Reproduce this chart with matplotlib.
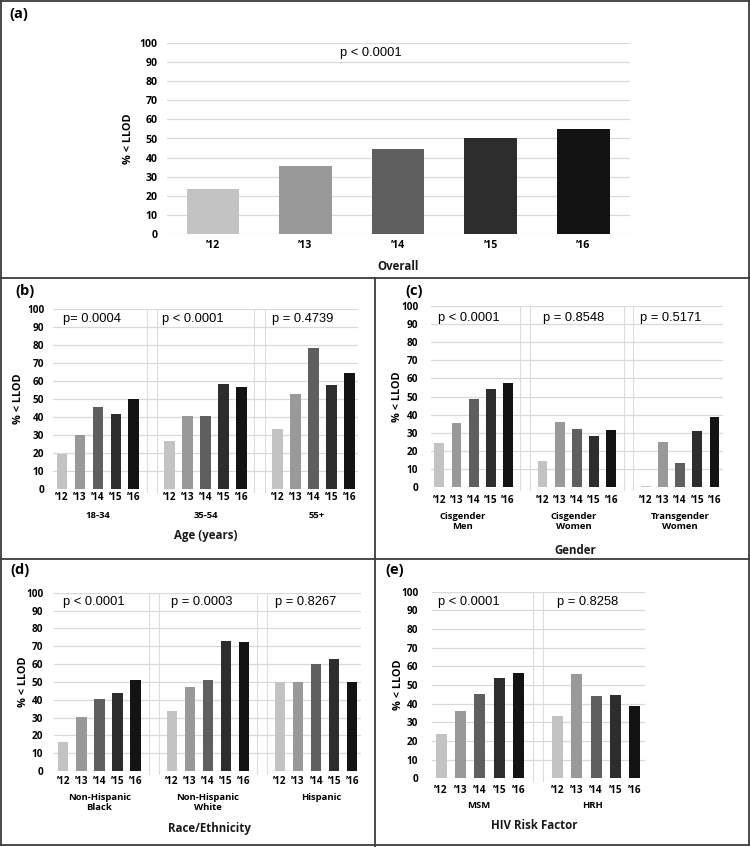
import matplotlib
matplotlib.use("Agg")
import matplotlib.pyplot as plt
from matplotlib.transforms import blended_transform_factory
from matplotlib.lines import Line2D

plt.rcParams['font.family'] = ['Open Sans', 'DejaVu Sans']

W, H = 750, 847

# ---------------- data ----------------
years = ["\u201912", "\u201913", "\u201914", "\u201915", "\u201916"]
year_colors = ["#c3c3c3", "#999999", "#5f5f5f", "#2d2d2d", "#131313"]

overall = [23.5, 35.5, 44.5, 50.5, 55.0]
overall_p = ["p < 0.0001"]

age_groups = ["18-34", "35-54", "55+"]
age_18_34 = [19.5, 30.0, 45.5, 42.0, 50.0]
age_35_54 = [26.5, 40.5, 40.5, 58.5, 57.0]
age_55_plus = [33.5, 53.0, 78.5, 58.0, 64.5]
age_p = ["p= 0.0004", "p < 0.0001", "p = 0.4739"]

gender_groups = ["Cisgender\nMen", "Cisgender\nWomen", "Transgender\nWomen"]
cis_men = [24.5, 35.5, 48.5, 54.0, 57.5]
cis_women = [14.5, 36.0, 32.0, 28.0, 31.5]
trans_women = [0.5, 25.0, 13.5, 31.0, 38.5]
gender_p = ["p < 0.0001", "p = 0.8548", "p = 0.5171"]

race_groups = ["Non-Hispanic\nBlack", "Non-Hispanic\nWhite", "Hispanic"]
nh_black = [16.0, 30.5, 40.5, 44.0, 51.0]
nh_white = [33.5, 47.0, 51.0, 73.0, 72.5]
hispanic = [50.0, 50.0, 60.0, 63.0, 50.0]
race_p = ["p < 0.0001", "p = 0.0003", "p = 0.8267"]

risk_groups = ["MSM", "HRH"]
msm = [24.0, 36.0, 45.0, 53.5, 56.5]
hrh = [33.5, 56.0, 44.0, 44.5, 39.0]
risk_p = ["p < 0.0001", "p = 0.8258"]

yticks = list(range(0, 101, 10))

# ---------------- figure ----------------
fig = plt.figure(figsize=(W / 100, H / 100), dpi=100)


def add_axes_px(left, top, right, bottom):
    return fig.add_axes([left / W, 1 - bottom / H, (right - left) / W, (bottom - top) / H])


def fy(ypx):
    return 1 - ypx / H


def panel(ax, series, group_labels, pvals, p_x, p_y, tick_y, glabel_x, glabel_y,
          title, title_x, title_y, ylabel_x, ytick_gap, tick_fs=7.2, group_fs=6.8):
    n = len(series)
    ax.set_xlim(-0.5, n * 6 - 1.5)
    ax.set_ylim(0, 100)
    ax.set_yticks(yticks)
    ax.set_yticklabels([str(v) for v in yticks], fontsize=tick_fs, fontweight='bold')
    ax.tick_params(axis='y', length=0, pad=ytick_gap * 72 / 100)
    ax.set_xticks([])
    ax.yaxis.grid(True, color='#d9d9d9', lw=0.9)
    ax.set_axisbelow(True)
    for s in ax.spines.values():
        s.set_visible(False)
    tr = blended_transform_factory(ax.transData, fig.transFigure)
    for g, vals in enumerate(series):
        xs = [g * 6 + i for i in range(5)]
        ax.bar(xs, vals, width=0.57, color=year_colors, zorder=3)
        for x, lab in zip(xs, years):
            ax.text(x, fy(tick_y), lab, transform=tr, ha='center', va='center',
                    fontsize=tick_fs, fontweight='bold')
        if group_labels is not None:
            ax.text(glabel_x[g], fy(glabel_y), group_labels[g], transform=tr,
                    ha='center', va='top', fontsize=group_fs, fontweight='bold',
                    linespacing=1.25)
        if g > 0:
            for off in (-0.28, 0.28):
                ax.plot([g * 6 - 1 + off] * 2, [-1.5, 100], color='#dcdcdc', lw=0.8,
                        zorder=1, clip_on=False)
        ax.text(p_x[g], p_y, pvals[g], ha='left', va='center', fontsize=9.3,
                family=['Liberation Sans', 'DejaVu Sans'], zorder=4)
    ax.text(title_x, fy(title_y), title, transform=tr, ha='center', va='center',
            fontsize=8.3, fontweight='bold', color='#1a1a1a')
    bb = ax.get_position()
    fig.text(ylabel_x / W, (bb.y0 + bb.y1) / 2, "% < LLOD", rotation=90,
             ha='center', va='center', fontsize=7.8, fontweight='bold')


# (a) Overall
ax_a = add_axes_px(166.6, 42.7, 629.6, 234.3)
panel(ax_a, [overall], None, overall_p, [1.37], 94.8, 246, None, None,
      "Overall", 2, 266.7, 128.2, 8.7, tick_fs=7.6)

# (b) Age
ax_b = add_axes_px(52.7, 309.3, 358.4, 489)
panel(ax_b, [age_18_34, age_35_54, age_55_plus], age_groups, age_p,
      [0.07, 5.56, 11.68], 94.4, 497.7, [2, 8, 14.2], 510.5,
      "Age (years)", 8, 535, 18.3, 8.4)

# (c) Gender
ax_c = add_axes_px(430.7, 306, 723, 487)
panel(ax_c, [cis_men, cis_women, trans_women], gender_groups, gender_p,
      [-0.06, 6.05, 11.67], 93.2, 500.7, [1.35, 7.8, 14], 511.5,
      "Gender", 7.9, 550.3, 397.7, 12.4)

# (d) Race/Ethnicity
ax_d = add_axes_px(54.3, 592.7, 361.3, 771)
panel(ax_d, [nh_black, nh_white, hispanic], race_groups, race_p,
      [0.0, 5.96, 11.72], 94.9, 781.7, [2, 8, 14.3], 792.5,
      "Race/Ethnicity", 8.1, 828.3, 23.3, 11)

# (e) HIV Risk Factor
ax_e = add_axes_px(431.5, 591.7, 644.5, 778.3)
panel(ax_e, [msm, hrh], risk_groups, risk_p,
      [-0.14, 5.96], 94.6, 790, [1.92, 7.8], 801,
      "HIV Risk Factor", 4.8, 825.7, 398.3, 13.2)

# panel letters
for lab, x, y in [("(a)", 9.6, 14), ("(b)", 15, 290.7), ("(c)", 405, 290.7),
                  ("(d)", 10, 570), ("(e)", 385, 570)]:
    fig.text(x / W, fy(y), lab, ha='left', va='center', fontsize=10.5, fontweight='bold')

# panel borders
border_c = '#3c3c3c'
lines = [
    ([1, W - 1], [1, 1]), ([1, W - 1], [H - 2, H - 2]),
    ([1, 1], [1, H - 2]), ([W - 1, W - 1], [1, H - 2]),
    ([0, W], [278, 278]), ([0, W], [559, 559]), ([375, 375], [278, H]),
]
for xs, ys in lines:
    fig.add_artist(Line2D([x / W for x in xs], [fy(y) for y in ys],
                          transform=fig.transFigure, color=border_c, lw=1.3))

fig.savefig("out.png", dpi=100)
